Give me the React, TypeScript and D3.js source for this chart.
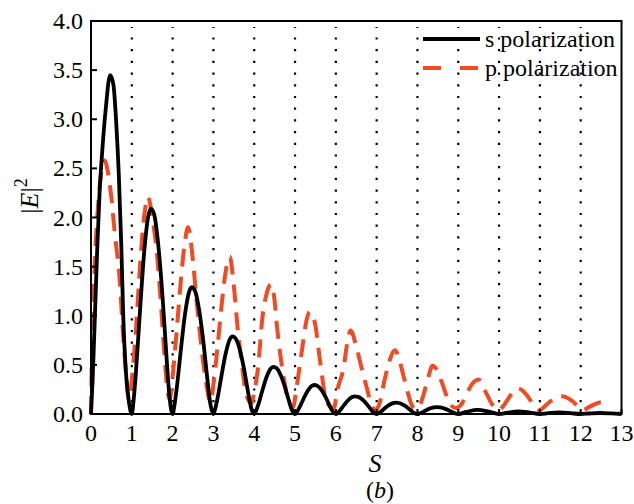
import React, { useEffect, useState } from 'react';
import * as d3 from 'd3';

// s polarization (black solid)
const S_X = [
  0, 0.04, 0.09, 0.15, 0.21, 0.28, 0.36, 0.47, 0.55, 0.62, 0.68, 0.74, 0.79, 0.86, 0.93, 1,
  1.05, 1.1, 1.2, 1.3, 1.4, 1.47, 1.55, 1.65, 1.75, 1.85, 1.93, 2,
  2.05, 2.1, 2.2, 2.3, 2.4, 2.47, 2.55, 2.65, 2.75, 2.85, 2.93, 3,
  3.05, 3.1, 3.2, 3.3, 3.4, 3.47, 3.55, 3.65, 3.75, 3.85, 3.93, 4,
  4.05, 4.1, 4.2, 4.3, 4.4, 4.47, 4.55, 4.65, 4.75, 4.85, 4.93, 5,
  5.05, 5.1, 5.2, 5.3, 5.4, 5.47, 5.55, 5.65, 5.75, 5.85, 5.93, 6,
  6.05, 6.1, 6.2, 6.3, 6.4, 6.47, 6.55, 6.65, 6.75, 6.85, 6.93, 7,
  7.05, 7.1, 7.2, 7.3, 7.4, 7.47, 7.55, 7.65, 7.75, 7.85, 7.93, 8,
  8.05, 8.1, 8.2, 8.3, 8.4, 8.47, 8.55, 8.65, 8.75, 8.85, 8.93, 9,
  9.2, 9.47, 9.75, 10,
  10.2, 10.47, 10.75, 11,
  11.2, 11.47, 11.75, 12,
  12.2, 12.47, 12.75, 13,
];
const S_Y = [
  0, 0.35, 0.93, 1.65, 2.25, 2.7, 3.1, 3.45, 3.35, 2.95, 2.45, 1.75, 1.0, 0.4, 0.12, 0,
  0.167, 0.418, 1.045, 1.63, 2.006, 2.09, 2.027, 1.714, 1.212, 0.585, 0.146, 0,
  0.103, 0.258, 0.645, 1.006, 1.238, 1.29, 1.251, 1.058, 0.748, 0.361, 0.09, 0,
  0.063, 0.158, 0.395, 0.616, 0.758, 0.79, 0.766, 0.648, 0.458, 0.221, 0.055, 0,
  0.038, 0.096, 0.24, 0.374, 0.461, 0.48, 0.466, 0.394, 0.278, 0.134, 0.034, 0,
  0.024, 0.059, 0.148, 0.23, 0.283, 0.295, 0.286, 0.242, 0.171, 0.083, 0.021, 0,
  0.014, 0.036, 0.09, 0.14, 0.173, 0.18, 0.175, 0.148, 0.104, 0.05, 0.013, 0,
  0.009, 0.023, 0.058, 0.09, 0.11, 0.115, 0.112, 0.094, 0.067, 0.032, 0.008, 0,
  0.006, 0.014, 0.035, 0.055, 0.067, 0.07, 0.068, 0.057, 0.041, 0.02, 0.005, 0,
  0.021, 0.042, 0.024, 0,
  0.013, 0.026, 0.015, 0,
  0.008, 0.016, 0.009, 0,
  0.005, 0.01, 0.006, 0,
];

// p polarization (red dashed)
const P_X = [
  0, 0.01, 0.03, 0.06, 0.1, 0.17, 0.25, 0.33, 0.42, 0.5, 0.58, 0.7, 0.78, 0.86, 0.93,
  1.0, 1.1, 1.2, 1.3, 1.4, 1.5, 1.6, 1.7, 1.8, 1.87, 1.93,
  2.0, 2.1, 2.2, 2.3, 2.38, 2.5, 2.6, 2.7, 2.8, 2.93,
  3.0, 3.1, 3.2, 3.3, 3.4, 3.5, 3.6, 3.7, 3.8, 3.93,
  4.0, 4.1, 4.2, 4.3, 4.42, 4.5, 4.56, 4.64, 4.72, 4.83, 4.95,
  5.04, 5.16, 5.29, 5.36, 5.43, 5.49, 5.61, 5.74, 5.85, 5.95,
  6.04, 6.18, 6.3, 6.36, 6.51, 6.63, 6.75, 6.87, 6.97,
  7.08, 7.18, 7.3, 7.45, 7.55, 7.65, 7.75, 7.85, 7.95,
  8.05, 8.15, 8.25, 8.37, 8.5, 8.6, 8.7, 8.8, 8.95,
  9.08, 9.2, 9.35, 9.5, 9.6, 9.7, 9.8, 9.9, 10.0,
  10.1, 10.2, 10.3, 10.45, 10.6, 10.7, 10.8, 10.9, 11.0,
  11.1, 11.2, 11.35, 11.5, 11.65, 11.8, 11.95, 12.05, 12.2, 12.35, 12.5, 12.72,
];
const P_Y = [
  0, 0.3, 0.7, 1.15, 1.6, 2.1, 2.45, 2.58, 2.45, 2.2, 1.85, 1.38, 0.85, 0.4, 0.15,
  0.35, 0.85, 1.5, 2.0, 2.21, 2.0, 1.7, 1.2, 0.6, 0.25, 0.15,
  0.38, 0.85, 1.35, 1.75, 1.9, 1.55, 1.1, 0.7, 0.38, 0.12,
  0.3, 0.68, 1.1, 1.45, 1.6, 1.3, 0.85, 0.5, 0.2, 0.11,
  0.22, 0.5, 0.98, 1.22, 1.32, 1.15, 0.88, 0.6, 0.38, 0.14, 0.07,
  0.28, 0.62, 0.97, 1.04, 1.0, 0.92, 0.55, 0.18, 0.08, 0.06,
  0.25, 0.45, 0.77, 0.85, 0.67, 0.47, 0.28, 0.1, 0.04,
  0.12, 0.32, 0.52, 0.65, 0.56, 0.4, 0.24, 0.1, 0.05,
  0.08, 0.2, 0.35, 0.49, 0.43, 0.32, 0.2, 0.1, 0.06,
  0.1, 0.2, 0.31, 0.35, 0.28, 0.2, 0.12, 0.06, 0.04,
  0.08, 0.14, 0.2, 0.26, 0.23, 0.18, 0.12, 0.07, 0.04,
  0.07, 0.11, 0.15, 0.18, 0.17, 0.13, 0.07, 0.04, 0.07, 0.1, 0.12, 0.12,
];

const X_TICKS = [0, 1, 2, 3, 4, 5, 6, 7, 8, 9, 10, 11, 12, 13];
const Y_TICKS = [0, 0.5, 1, 1.5, 2, 2.5, 3, 3.5, 4];
const GRID_X = [1, 2, 3, 4, 5, 6, 7, 8, 9, 10, 11, 12];
const LEGEND_LABELS = ['s polarization', 'p polarization'];

const RED = '#f04b25';
const FF = '"Liberation Serif"';

export default function App() {
  const [ready, setReady] = useState(0);
  useEffect(() => {
    const fonts = (document as any).fonts;
    if (fonts && fonts.load) {
      Promise.all([fonts.load('24px "Liberation Serif"'), fonts.load('italic 24px "Liberation Serif"')])
        .then(() => setReady(1))
        .catch(() => setReady(1));
    } else {
      setReady(1);
    }
  }, []);

  const W = 634;
  const H = 504;
  const left = 91, right = 621.5, top = 21, bottom = 414;
  const x = d3.scaleLinear().domain([0, 13]).range([left, right]);
  const y = d3.scaleLinear().domain([0, 4]).range([bottom, top]);

  const line = d3
    .line<[number, number]>()
    .x((d) => x(d[0]))
    .y((d) => y(d[1]))
    .curve(d3.curveMonotoneX);

  const sData: [number, number][] = S_X.map((v, i) => [v, S_Y[i]]);
  const pData: [number, number][] = P_X.map((v, i) => [v, P_Y[i]]);
  const ts = { fontFamily: FF };

  return (
    <svg key={ready} width={W} height={H} style={{ position: 'absolute', left: 0, top: 0 }}>
      <style>{`text { font-family: "Liberation Serif", "Times New Roman", "Tinos"; }`}</style>
      {GRID_X.map((g) => (
        <line
          key={g}
          x1={x(g)}
          x2={x(g)}
          y1={bottom}
          y2={top + 6}
          stroke="#000"
          strokeWidth={2.2}
          strokeDasharray="2.2,9.5"
        />
      ))}
      <path d={line(pData) || ''} fill="none" stroke={RED} strokeWidth={4} strokeDasharray="18,10" />
      <path d={line(sData) || ''} fill="none" stroke="#000" strokeWidth={3.8} strokeLinejoin="round" />

      <rect x={left} y={top} width={right - left} height={bottom - top} fill="none" stroke="#000" strokeWidth={2} />

      {Y_TICKS.map((t) => (
        <line key={'yt' + t} x1={left} x2={left + 6} y1={y(t)} y2={y(t)} stroke="#000" strokeWidth={2} />
      ))}
      {Y_TICKS.map((t) => (
        <text key={'yl' + t} x={83} y={y(t) + 8} textAnchor="end" fontSize={24} style={ts}>
          {t.toFixed(1)}
        </text>
      ))}
      {X_TICKS.map((t) => (
        <line key={'xt' + t} x1={x(t)} x2={x(t)} y1={bottom} y2={bottom - 5} stroke="#000" strokeWidth={2} />
      ))}
      {X_TICKS.map((t) => (
        <text key={'xl' + t} x={x(t)} y={441} textAnchor="middle" fontSize={24} style={ts}>
          {String(t)}
        </text>
      ))}

      <text x={375} y={472} textAnchor="middle" fontSize={26} fontStyle="italic" style={ts}>
        S
      </text>
      <text x={380} y={498} textAnchor="middle" fontSize={24} style={ts}>
        (<tspan fontStyle="italic">b</tspan>)
      </text>
      <text transform="translate(38,196) rotate(-90)" textAnchor="middle" fontSize={26} style={ts}>
        |<tspan fontStyle="italic">E</tspan>|<tspan fontSize={18} dy={-11}>2</tspan>
      </text>

      <line x1={423} x2={480} y1={39} y2={39} stroke="#000" strokeWidth={3.8} />
      <text x={485} y={47} fontSize={24} style={ts}>
        {LEGEND_LABELS[0]}
      </text>
      <line x1={423} x2={480} y1={68} y2={68} stroke={RED} strokeWidth={4} strokeDasharray="18,19" />
      <text x={485} y={76} fontSize={24} style={ts}>
        {LEGEND_LABELS[1]}
      </text>
    </svg>
  );
}
